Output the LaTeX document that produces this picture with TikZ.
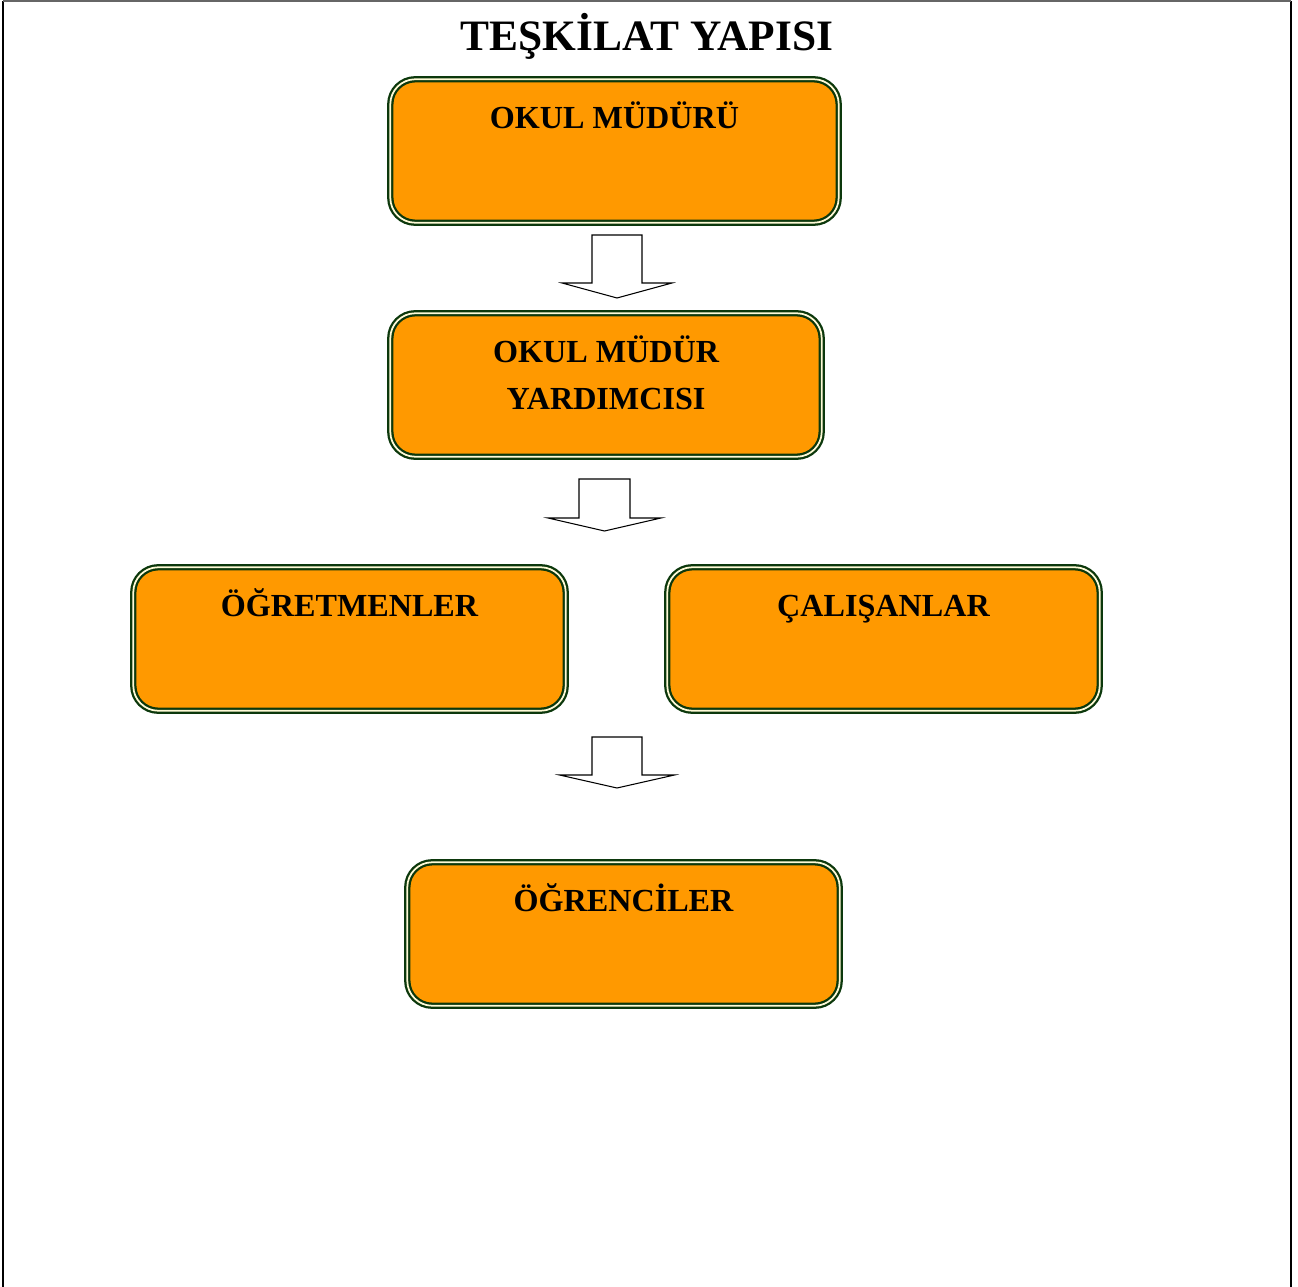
\documentclass[tikz,border=0pt]{standalone}
\usepackage{fontspec}
\setmainfont{Liberation Serif}
\usetikzlibrary{positioning}
\definecolor{kutuyesil}{RGB}{12,56,12}
\definecolor{kutukrem}{RGB}{255,250,215}
\definecolor{kututuruncu}{RGB}{255,153,0}

\begin{document}
\begin{tikzpicture}[x=0.02cm, y=-0.02cm,
    kutu/.style={draw=kutuyesil, double=kutukrem, line width=1.3pt, double distance=1.0pt,
        fill=kututuruncu, rounded corners=0.5cm, minimum height=2.87cm, inner ysep=0pt,
        text height=0.99cm, text depth=1.88cm, font=\fontsize{18.3}{26.7}\selectfont\bfseries},
    ok/.style={draw=black, line width=0.6pt, fill=white}]
    \useasboundingbox (0,0) rectangle (1298,1287);
    % sayfa cercevesi
    \draw[line width=1.1pt] (3,1287) -- (3,1);
    \draw[line width=1.1pt] (1291,1) -- (1291,1287);
    \draw[line width=0.8pt, black!60] (3,1) -- (1291,1);

    \node[anchor=base, font=\fontsize{24.7}{28}\selectfont\bfseries] (baslik) at (647,51) {TEŞKİLAT YAPISI};

    \node[kutu, minimum width=8.97cm] (mudur) at (614.5,151) {OKUL MÜDÜRÜ};
    \node[kutu, minimum width=8.63cm] (yardimci) at (606,385)
        {\begin{tabular}[t]{@{}c@{}}OKUL MÜDÜR\\YARDIMCISI\end{tabular}};
    \node[kutu, minimum width=8.65cm] (ogretmen) at (349.5,639) {ÖĞRETMENLER};
    \node[kutu, minimum width=8.65cm] (calisan) at (883.5,639) {ÇALIŞANLAR};
    \node[kutu, minimum width=8.65cm] (ogrenci) at (623.5,934) {ÖĞRENCİLER};

    % blok oklar
    \foreach \x/\ust/\omuz/\uc/\sw/\hw in {617/235/283/298/25/55, 604.5/479/518/531/25.5/56.5, 617/737/775/788/25/57.5} {
        \draw[ok] (\x-\sw,\ust) -- (\x+\sw,\ust) -- (\x+\sw,\omuz) -- (\x+\hw,\omuz)
            -- (\x,\uc) -- (\x-\hw,\omuz) -- (\x-\sw,\omuz) -- cycle;
    }
\end{tikzpicture}
\end{document}
